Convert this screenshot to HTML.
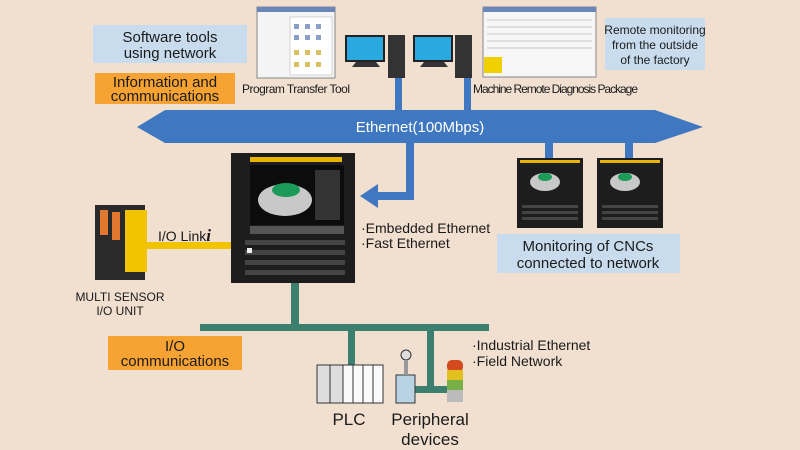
<!DOCTYPE html>
<html><head><meta charset="utf-8"><style>
html,body{margin:0;padding:0;background:#f1e0d0;}
svg{display:block;}
text{font-family:"Liberation Sans",sans-serif;fill:#1a1a1a;}
.c{font-family:"Liberation Sans Narrow","Liberation Sans",sans-serif;}
</style></head><body>
<svg width="800" height="450" viewBox="0 0 800 450" xmlns="http://www.w3.org/2000/svg">
<rect width="800" height="450" fill="#f1e0d0"/>
<!-- label boxes -->
<rect x="93" y="25" width="154" height="38" fill="#c9dcee"/>
<text x="170" y="42" font-size="15" text-anchor="middle">Software tools</text>
<text x="170" y="58" font-size="15" text-anchor="middle">using network</text>
<rect x="95" y="73" width="140" height="31" fill="#f6a333"/>
<text x="165" y="87" font-size="15" text-anchor="middle">Information and</text>
<text x="165" y="101" font-size="15" text-anchor="middle">communications</text>
<text x="242" y="93" font-size="12" class="c" textLength="108">Program Transfer Tool</text>
<text x="473" y="93" font-size="12" class="c" textLength="165">Machine Remote Diagnosis Package</text>
<rect x="605" y="18" width="100" height="52" fill="#c9dcee"/>
<text x="655" y="34" font-size="12" class="c" text-anchor="middle">Remote monitoring</text>
<text x="655" y="49" font-size="12" class="c" text-anchor="middle">from the outside</text>
<text x="655" y="64" font-size="12" class="c" text-anchor="middle">of the factory</text>
<!-- screenshots -->
<rect x="257" y="7" width="78" height="71" fill="#f4f4f4" stroke="#888" stroke-width="1"/>
<rect x="257" y="7" width="78" height="5" fill="#6b86b8"/>
<rect x="290" y="17" width="42" height="58" fill="#fff" stroke="#aaa" stroke-width=".5"/>
<g fill="#d9c060"><rect x="294" y="50" width="5" height="5"/><rect x="305" y="50" width="5" height="5"/><rect x="316" y="50" width="5" height="5"/><rect x="294" y="62" width="5" height="5"/><rect x="305" y="62" width="5" height="5"/><rect x="316" y="62" width="5" height="5"/></g>
<g fill="#8aa0c8"><rect x="294" y="24" width="5" height="5"/><rect x="305" y="24" width="5" height="5"/><rect x="316" y="24" width="5" height="5"/><rect x="294" y="35" width="5" height="5"/><rect x="305" y="35" width="5" height="5"/><rect x="316" y="35" width="5" height="5"/></g>
<rect x="483" y="7" width="113" height="70" fill="#f6f6f6" stroke="#888" stroke-width="1"/>
<rect x="483" y="7" width="113" height="5" fill="#6b86b8"/>
<g stroke="#999" stroke-width=".6"><line x1="487" y1="20" x2="592" y2="20"/><line x1="487" y1="27" x2="592" y2="27"/><line x1="487" y1="34" x2="592" y2="34"/><line x1="487" y1="41" x2="592" y2="41"/><line x1="487" y1="48" x2="592" y2="48"/></g>
<rect x="484" y="57" width="18" height="16" fill="#f0d000"/>
<!-- PCs -->
<rect x="345" y="35" width="40" height="27" fill="#222"/><rect x="347" y="37" width="36" height="23" fill="#2aa8e0"/>
<polygon points="352,67 380,67 376,62 356,62" fill="#333"/>
<rect x="388" y="35" width="17" height="43" fill="#333"/>
<rect x="413" y="35" width="40" height="27" fill="#222"/><rect x="415" y="37" width="36" height="23" fill="#2aa8e0"/>
<polygon points="420,67 448,67 444,62 424,62" fill="#333"/>
<rect x="455" y="35" width="17" height="43" fill="#333"/>
<!-- blue connectors -->
<rect x="395" y="78" width="7" height="33" fill="#3f78c0"/>
<rect x="464" y="78" width="7" height="33" fill="#3f78c0"/>
<polygon points="137,127 165,110 655,110 703,127 655,143 165,143" fill="#3f78c0"/>
<text x="420" y="132" font-size="15" text-anchor="middle" style="fill:#fff">Ethernet(100Mbps)</text>
<polyline points="410,143 410,196 375,196" fill="none" stroke="#3f78c0" stroke-width="8"/>
<polygon points="360,196 378,184 378,208" fill="#3f78c0"/>
<rect x="545" y="143" width="8" height="16" fill="#3f78c0"/>
<rect x="625" y="143" width="8" height="16" fill="#3f78c0"/>
<!-- main CNC -->
<rect x="231" y="153" width="124" height="130" fill="#1d1d1d"/>
<rect x="250" y="157" width="92" height="5" fill="#e8b400"/>
<rect x="250" y="165" width="94" height="60" fill="#0c0c0c"/>
<ellipse cx="285" cy="200" rx="27" ry="16" fill="#c8c8c8"/>
<ellipse cx="286" cy="190" rx="14" ry="7" fill="#1c9a5a"/>
<rect x="315" y="170" width="25" height="50" fill="#333"/>
<rect x="250" y="226" width="94" height="8" fill="#555"/>
<g fill="#444"><rect x="245" y="240" width="100" height="5"/><rect x="245" y="250" width="100" height="5"/><rect x="245" y="260" width="100" height="5"/><rect x="245" y="270" width="100" height="5"/></g>
<rect x="247" y="248" width="5" height="5" fill="#eee"/>
<!-- small CNCs -->
<g>
<rect x="517" y="158" width="66" height="70" fill="#1d1d1d"/><rect x="520" y="160" width="60" height="3" fill="#e8b400"/>
<ellipse cx="545" cy="182" rx="15" ry="9" fill="#c8c8c8"/><ellipse cx="545" cy="177" rx="7" ry="4" fill="#1c9a5a"/>
<g fill="#444"><rect x="522" y="205" width="56" height="3"/><rect x="522" y="211" width="56" height="3"/><rect x="522" y="217" width="56" height="3"/></g>
<rect x="597" y="158" width="66" height="70" fill="#1d1d1d"/><rect x="600" y="160" width="60" height="3" fill="#e8b400"/>
<ellipse cx="625" cy="182" rx="15" ry="9" fill="#c8c8c8"/><ellipse cx="625" cy="177" rx="7" ry="4" fill="#1c9a5a"/>
<g fill="#444"><rect x="602" y="205" width="56" height="3"/><rect x="602" y="211" width="56" height="3"/><rect x="602" y="217" width="56" height="3"/></g>
</g>
<rect x="497" y="234" width="183" height="39" fill="#c9dcee"/>
<text x="588" y="251" font-size="15" text-anchor="middle">Monitoring of CNCs</text>
<text x="588" y="268" font-size="15" text-anchor="middle">connected to network</text>
<text x="361" y="233" font-size="14">·Embedded Ethernet</text>
<text x="361" y="248" font-size="14">·Fast Ethernet</text>
<!-- I/O link -->
<rect x="140" y="242" width="91" height="7" fill="#f2c400"/>
<rect x="95" y="205" width="50" height="75" fill="#2a2a2a"/>
<rect x="125" y="210" width="22" height="62" fill="#f2c400"/>
<rect x="100" y="210" width="8" height="25" fill="#e07830"/><rect x="112" y="212" width="8" height="28" fill="#e07830"/>
<text x="158" y="241" font-size="14">I/O Link<tspan font-family="Liberation Serif" font-style="italic" font-weight="bold" font-size="17">i</tspan></text>
<text x="120" y="301" font-size="12" text-anchor="middle">MULTI SENSOR</text>
<text x="120" y="315" font-size="12" text-anchor="middle">I/O UNIT</text>
<!-- green -->
<g fill="#3d7f6f">
<rect x="291" y="283" width="8" height="44"/>
<rect x="200" y="324" width="289" height="7"/>
<rect x="348" y="327" width="7" height="38"/>
<rect x="427" y="327" width="7" height="64"/>
<rect x="415" y="386" width="33" height="7"/>
</g>
<rect x="108" y="336" width="134" height="34" fill="#f6a333"/>
<text x="175" y="351" font-size="15" text-anchor="middle">I/O</text>
<text x="175" y="366" font-size="15" text-anchor="middle">communications</text>
<!-- PLC -->
<rect x="317" y="365" width="66" height="38" fill="#ddd" stroke="#333" stroke-width="1"/>
<rect x="343" y="365" width="40" height="38" fill="#fafafa" stroke="#333" stroke-width="1"/>
<g stroke="#333" stroke-width="1"><line x1="353" y1="365" x2="353" y2="403"/><line x1="363" y1="365" x2="363" y2="403"/><line x1="373" y1="365" x2="373" y2="403"/><line x1="330" y1="365" x2="330" y2="403"/></g>
<rect x="396" y="375" width="19" height="28" fill="#b8d4e4" stroke="#333"/>
<circle cx="406" cy="355" r="5" fill="#ddd" stroke="#333"/>
<rect x="404" y="360" width="4" height="15" fill="#999"/>
<rect x="447" y="360" width="16" height="12" rx="5" fill="#d24a1e"/>
<rect x="447" y="370" width="16" height="10" fill="#e2c020"/>
<rect x="447" y="380" width="16" height="10" fill="#78b048"/>
<rect x="447" y="390" width="16" height="12" fill="#bbb"/>
<text x="349" y="425" font-size="17" text-anchor="middle">PLC</text>
<text x="430" y="425" font-size="17" text-anchor="middle">Peripheral</text>
<text x="430" y="445" font-size="17" text-anchor="middle">devices</text>
<text x="472" y="350" font-size="14">·Industrial Ethernet</text>
<text x="472" y="366" font-size="14">·Field Network</text>
</svg>
</body></html>
